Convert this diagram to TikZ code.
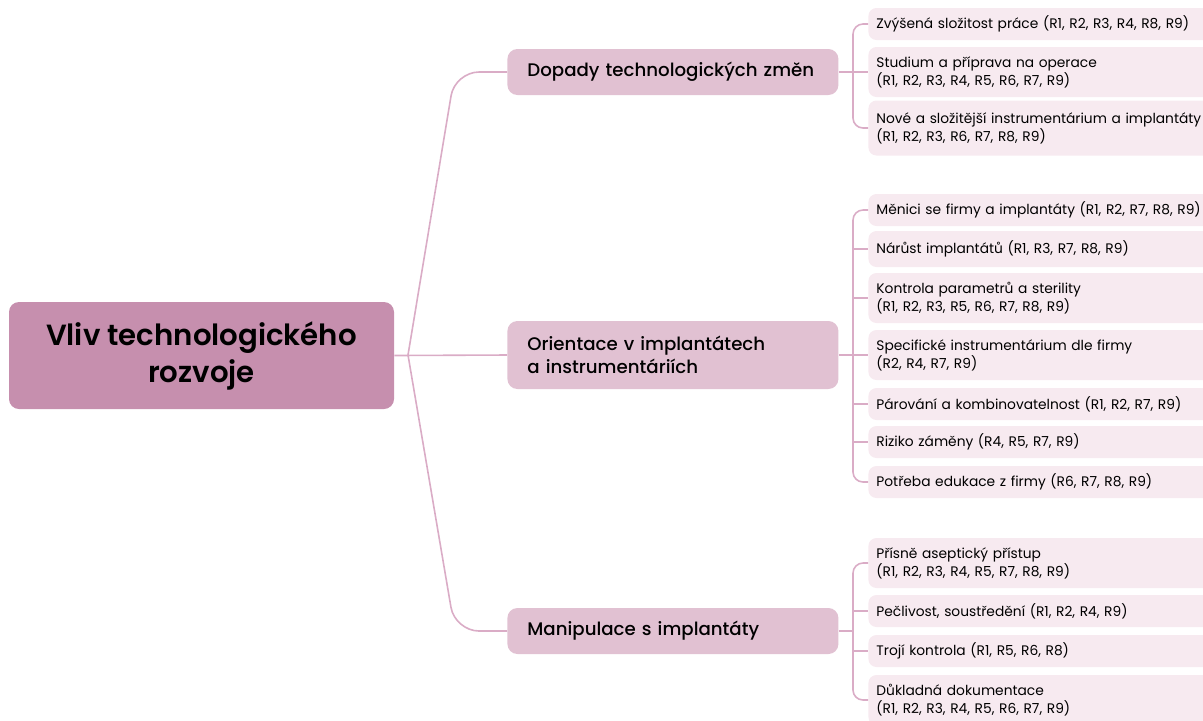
\documentclass[tikz,border=0pt]{standalone}
\usepackage{fontspec}
\setmainfont{Poppins}
\newfontfamily\medfont{Poppins Medium}
\newfontfamily\semifont{Poppins SemiBold}
\usepackage{xcolor}
\usepackage{tikz}
\usetikzlibrary{positioning}
\definecolor{rootpink}{RGB}{198,143,174}
\definecolor{mainpink}{RGB}{225,193,210}
\definecolor{leafpink}{RGB}{247,234,240}
\definecolor{linepink}{RGB}{218,172,198}

\begin{document}
\begin{tikzpicture}[
                x=0.5pt, y=-0.5pt,
                root/.style={rectangle, rounded corners=5pt, fill=rootpink, minimum width=192.5pt, minimum height=53.5pt, align=center, font=\semifont\fontsize{14.6}{18.5}\selectfont},
                topic/.style={rectangle, rounded corners=5pt, fill=mainpink, anchor=west, text width=145.5pt, inner xsep=10pt, inner ysep=0pt, minimum height=23pt, align=left, font=\medfont\fontsize{9.1}{11.5}\selectfont},
                leaf/.style={rectangle, rounded corners=4pt, fill=leafpink, anchor=west, text width=164pt, inner xsep=4pt, inner ysep=0pt, minimum height=16pt, align=left, font=\fontsize{6.9}{9}\selectfont},
                leaftwo/.style={leaf, minimum height=25pt},
                link/.style={draw=linepink, line width=0.8pt, rounded corners=5pt}
            ]
                \useasboundingbox (0,0) rectangle (1203,720);

                % root and topics
                \node[root] (root) at (201.5,355.5) {Vliv technologického\\rozvoje};
                \node[topic] (dopady) at (507,72) {Dopady technologických změn};
                \node[topic, minimum height=34pt] (orient) at (507,355) {Orientace v implantátech\\a instrumentáriích};
                \node[topic] (manip) at (507,631) {Manipulace s implantáty};

                % leaves
                \node[leaf] (d1) at (868,24) {Zvýšená složitost práce (R1, R2, R3, R4, R8, R9)};
                \node[leaftwo] (d2) at (868,72) {Studium a příprava na operace\\(R1, R2, R3, R4, R5, R6, R7, R9)};
                \node[leaftwo, minimum height=27.5pt] (d3) at (868,128) {Nové a složitější instrumentárium a implantáty\\(R1, R2, R3, R6, R7, R8, R9)};

                \node[leaf] (o1) at (868,210) {Měnici se firmy a implantáty (R1, R2, R7, R8, R9)};
                \node[leaf, minimum height=18pt] (o2) at (868,249) {Nárůst implantátů (R1, R3, R7, R8, R9)};
                \node[leaftwo] (o3) at (868,298) {Kontrola parametrů a sterility\\(R1, R2, R3, R5, R6, R7, R8, R9)};
                \node[leaftwo] (o4) at (868,355) {Specifické instrumentárium dle firmy\\(R2, R4, R7, R9)};
                \node[leaf] (o5) at (868,404) {Párování a kombinovatelnost (R1, R2, R7, R9)};
                \node[leaf] (o6) at (868,442) {Riziko záměny (R4, R5, R7, R9)};
                \node[leaf] (o7) at (868,482) {Potřeba edukace z firmy (R6, R7, R8, R9)};

                \node[leaftwo] (m1) at (868,563) {Přísně aseptický přístup\\(R1, R2, R3, R4, R5, R7, R8, R9)};
                \node[leaf] (m2) at (868,611) {Pečlivost, soustředění (R1, R2, R4, R9)};
                \node[leaf] (m3) at (868,651) {Trojí kontrola (R1, R5, R6, R8)};
                \node[leaftwo] (m4) at (868,700) {Důkladná dokumentace\\(R1, R2, R3, R4, R5, R6, R7, R9)};

                % junctions
                \coordinate (rj) at (408,355);
                \coordinate (dj) at (853,72);
                \coordinate (oj) at (853,355);
                \coordinate (mj) at (853,631);

                % root to topics
                \draw[link] (root.east) -- (orient.west);
                \draw[link, rounded corners=12pt] (rj) -- (455,72) -- (dopady.west);
                \draw[link, rounded corners=12pt] (rj) -- (455,631) -- (manip.west);

                % topics to leaves
                \draw[link] (dopady.east) -- (dj) -- (d2.west);
                \draw[link] (d1.west) -- (d1.west -| dj) -- (d3.west -| dj) -- (d3.west);

                \draw[link] (orient.east) -- (oj) -- (o4.west);
                \draw[link] (o1.west) -- (o1.west -| oj) -- (o7.west -| oj) -- (o7.west);
                \draw[link] (o2.west -| oj) -- (o2.west);
                \draw[link] (o3.west -| oj) -- (o3.west);
                \draw[link] (o5.west -| oj) -- (o5.west);
                \draw[link] (o6.west -| oj) -- (o6.west);

                \draw[link] (manip.east) -- (mj);
                \draw[link] (m1.west) -- (m1.west -| mj) -- (m4.west -| mj) -- (m4.west);
                \draw[link] (m2.west -| mj) -- (m2.west);
                \draw[link] (m3.west -| mj) -- (m3.west);
            \end{tikzpicture}
\end{document}
